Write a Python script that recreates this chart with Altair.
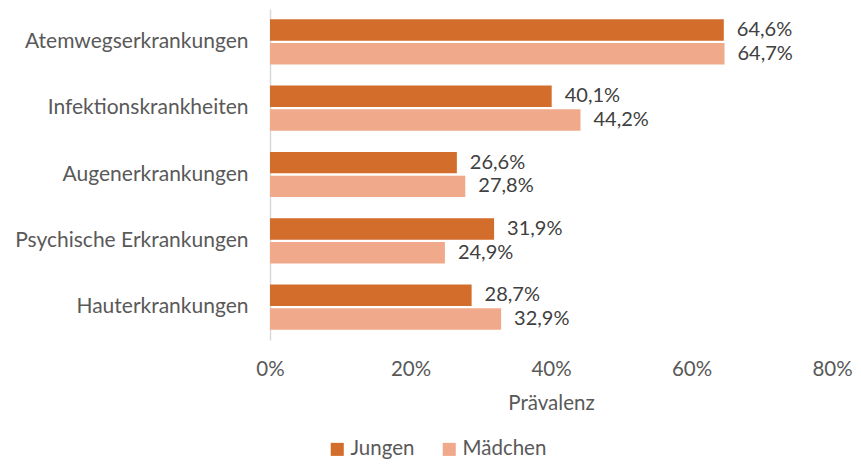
import altair as alt
import pandas as pd

categories = ["Atemwegserkrankungen", "Infektionskrankheiten", "Augenerkrankungen",
              "Psychische Erkrankungen", "Hauterkrankungen"]
jungen = [64.6, 40.1, 26.6, 31.9, 28.7]
maedchen = [64.7, 44.2, 27.8, 24.9, 32.9]
groups = ["Jungen", "Mädchen"]
colors = ["#D36D2B", "#F1A98B"]

rows = []
for c, j, m in zip(categories, jungen, maedchen):
    rows.append({"Kategorie": c, "Geschlecht": "Jungen", "Wert": j,
                 "Label": f"{j:.1f}%".replace(".", ",")})
    rows.append({"Kategorie": c, "Geschlecht": "Mädchen", "Wert": m,
                 "Label": f"{m:.1f}%".replace(".", ",")})
df = pd.DataFrame(rows)

FONT = "Lato"
TXT = "#595959"
FS = 20.5

y = alt.Y("Kategorie:N", sort=categories, title=None,
          scale=alt.Scale(paddingInner=0.32, paddingOuter=0.155),
          axis=alt.Axis(labelFontSize=21, labelColor=TXT, labelFont=FONT, labelPadding=22,
                        ticks=False, domainColor="#D9D9D9", domainWidth=1.5, labelLimit=300))
yoff = alt.YOffset("Geschlecht:N", sort=groups, scale=alt.Scale(paddingInner=0.1))
x = alt.X("Wert:Q", title="Prävalenz",
          scale=alt.Scale(domain=[0, 80], nice=False),
          axis=alt.Axis(values=[0, 20, 40, 60, 80], labelExpr="datum.value + '%'",
                        grid=False, ticks=False, domain=False, labelFontSize=FS,
                        labelColor=TXT, labelFont=FONT, labelPadding=19, labelFlush=False,
                        titleFontSize=FS, titleColor=TXT, titleFont=FONT,
                        titleFontWeight="normal", titlePadding=14))

bars = alt.Chart(df).mark_bar(cornerRadius=0).encode(
    x=x, y=y, yOffset=yoff,
    color=alt.Color("Geschlecht:N", sort=groups,
                    scale=alt.Scale(domain=groups, range=colors),
                    legend=alt.Legend(title=None, orient="none", direction="horizontal",
                                      legendX=57, legendY=430, symbolType="square",
                                      symbolSize=170, labelFontSize=FS, labelColor=TXT,
                                      labelFont=FONT, columnPadding=24, symbolStrokeWidth=0,
                                      labelOffset=3)),
)

labels = alt.Chart(df).mark_text(align="left", baseline="middle", dx=13, fontSize=20,
                                 font=FONT, color="#404040").encode(
    x="Wert:Q", y=alt.Y("Kategorie:N", sort=categories), yOffset=yoff, text="Label:N")

chart = (bars + labels).properties(
    width=562, height=331,
    autosize=alt.AutoSizeParams(type="none"),
    padding={"left": 262, "top": 1, "right": 21, "bottom": 120},
).configure_view(stroke=None)

chart.save("out.html", embed_options={"renderer": "svg", "actions": False})
